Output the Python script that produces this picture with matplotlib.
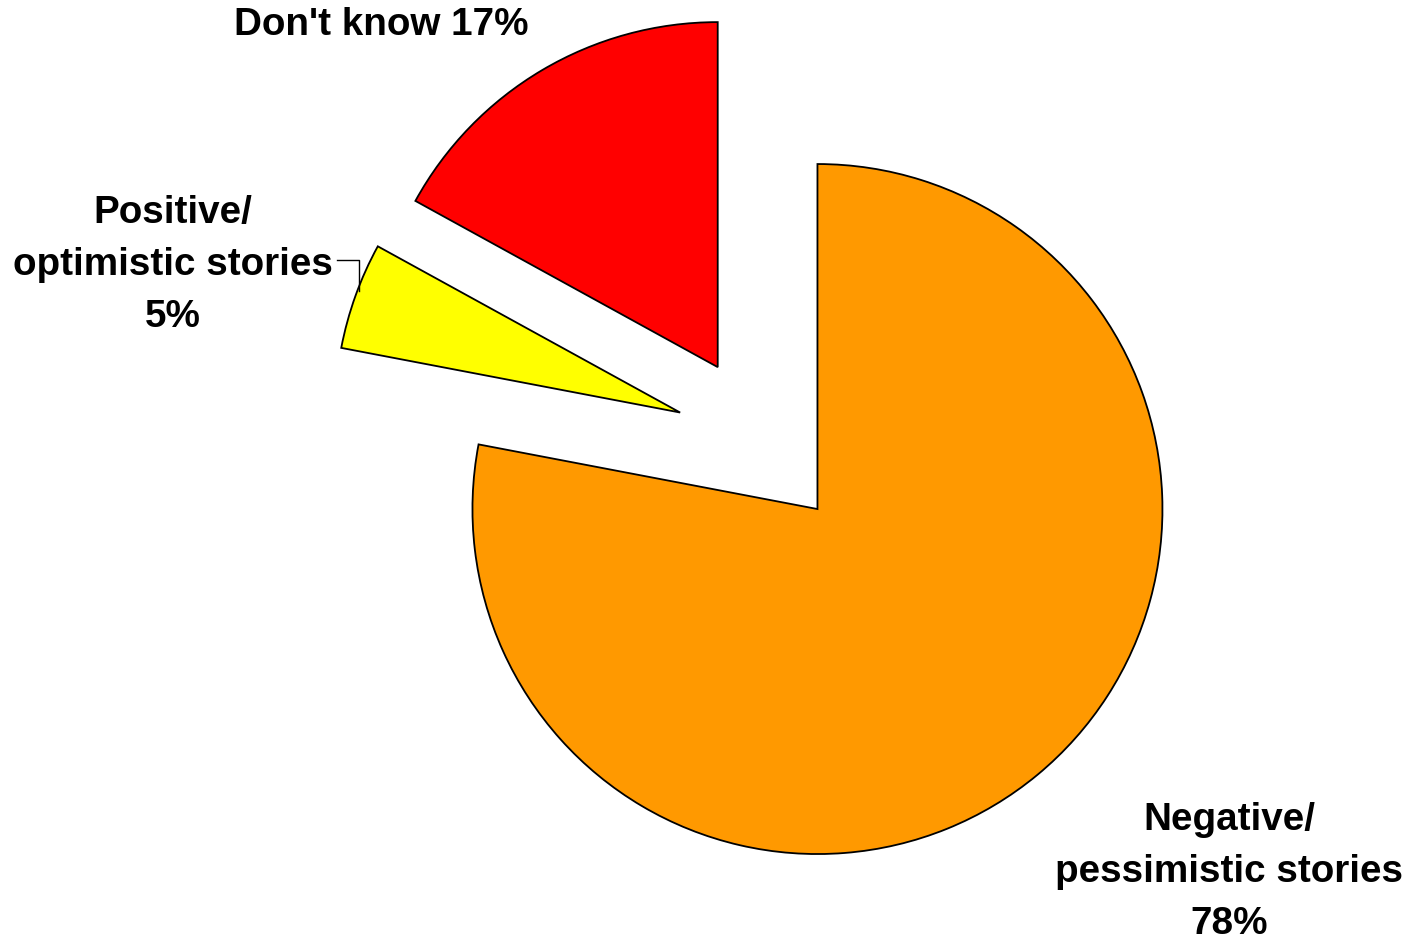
import matplotlib
matplotlib.use("Agg")
import matplotlib.pyplot as plt

# survey split of story types
categories = ["Negative/\npessimistic stories", "Positive/\noptimistic stories", "Don't know"]
shares = [78, 5, 17]
colors = ["#FF9900", "#FFFF00", "#FF0000"]

W, H = 1409, 937
RADIUS = 345
CENTER = (762, -443)
EXPLODE = 87

fig = plt.figure(figsize=(W / 100, H / 100), dpi=100)
ax = fig.add_axes([0, 0, 1, 1])

ax.pie(shares, colors=colors, startangle=90, counterclock=False,
       radius=RADIUS, center=CENTER, explode=[EXPLODE] * len(shares),
       wedgeprops=dict(edgecolor="black", linewidth=1.3), frame=True)
ax.set_xlim(0, W)
ax.set_ylim(-H, 0)
ax.axis("off")

font = dict(family="Liberation Sans", fontweight="bold", fontsize=27.8,
            ha="center", va="center", linespacing=1.56)

ax.text(1229, -872, f"{categories[0]}\n{shares[0]}%", **font)
ax.text(173, -265, f"{categories[1]}\n{shares[1]}%", **font)
ax.text(381, -25, f"{categories[2]} {shares[2]}%", **font)

# leader line for the small slice
ax.plot([337, 359, 359], [-261, -261, -292], color="black", lw=1.0)

fig.savefig("out.png", dpi=100)
